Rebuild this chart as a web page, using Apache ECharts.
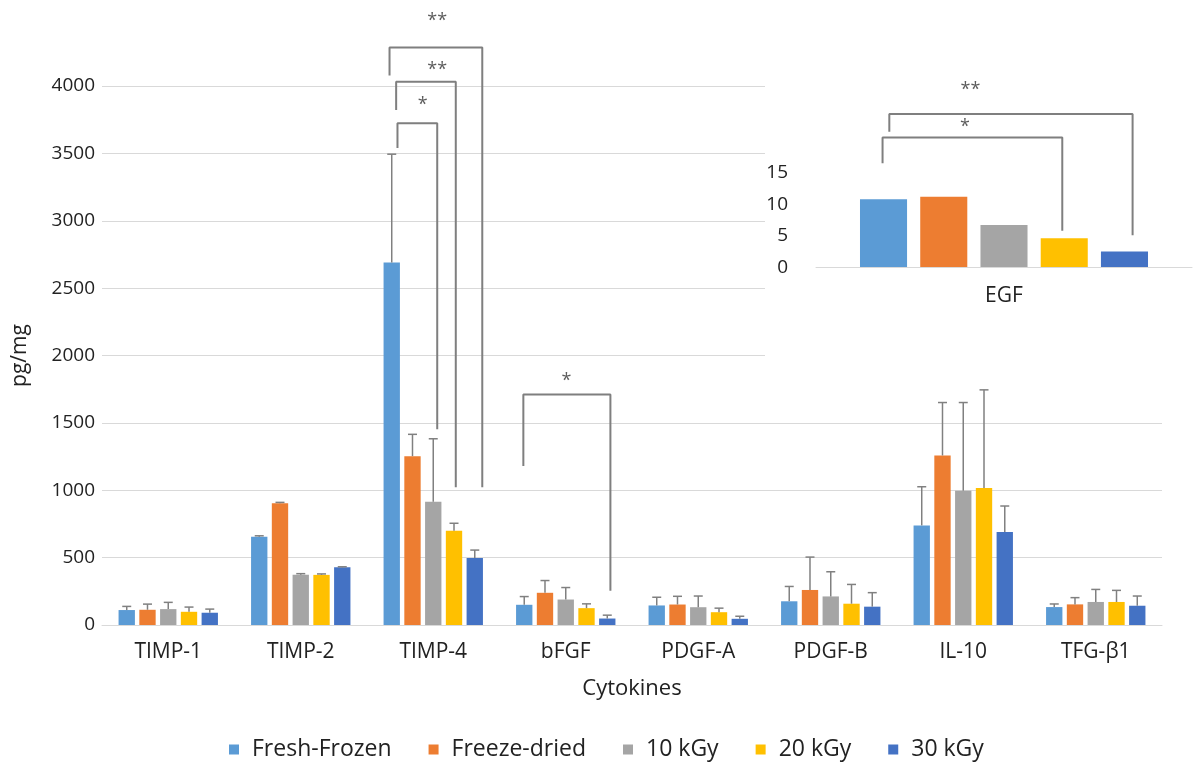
<!DOCTYPE html>
<html>
<head>
<meta charset="utf-8">
<script src="https://cdn.jsdelivr.net/npm/echarts@6/dist/echarts.min.js"></script>
<style>
html,body{margin:0;padding:0;background:#fff;}
#chart{width:1200px;height:762px;}
</style>
</head>
<body>
<div id="chart"></div>
<script>
// ---------- data ----------
const categories = ['TIMP-1', 'TIMP-2', 'TIMP-4', 'bFGF', 'PDGF-A', 'PDGF-B', 'IL-10', 'TFG-β1'];
const seriesNames = ['Fresh-Frozen', 'Freeze-dried', '10 kGy', '20 kGy', '30 kGy'];
const yTicks = [0, 500, 1000, 1500, 2000, 2500, 3000, 3500, 4000];

const freshFrozen = [111, 655, 2690, 150, 145, 176, 739, 133];
const freezeDried = [113, 903, 1253, 239, 152, 260, 1258, 153];
const kGy10 = [118, 373, 915, 189, 132, 212, 996, 171];
const kGy20 = [98, 372, 700, 125, 95, 158, 1016, 171];
const kGy30 = [91, 428, 497, 48, 46, 136, 690, 143];

const sdFreshFrozen = [27, 7, 804, 61, 61, 110, 287, 23];
const sdFreezeDried = [42, 7, 162, 91, 61, 244, 393, 50];
const sdKGy10 = [50, 8, 467, 89, 83, 183, 655, 93];
const sdKGy20 = [35, 7, 55, 32, 30, 143, 729, 86];
const sdKGy30 = [27, 4, 59, 25, 19, 104, 193, 72];

const egfCategory = ['EGF'];
const egfValues = [10.8, 11.2, 6.7, 4.6, 2.5];
const egfTicks = [0, 5, 10, 15];

// significance brackets (x in category units, y in pg/mg)
const mainBrackets = [
  { x1: 2.17, x2: 2.87, top: 4286, leftEnd: 4077, rightEnd: 1022, label: '**', labelX: 2.53, labelY: 4480 },
  { x1: 2.22, x2: 2.67, top: 4031, leftEnd: 3822, rightEnd: 1022, label: '**', labelX: 2.53, labelY: 4120 },
  { x1: 2.23, x2: 2.53, top: 3724, leftEnd: 3540, rightEnd: 1452, label: '*', labelX: 2.42, labelY: 3860 },
  { x1: 3.18, x2: 3.837, top: 1711, leftEnd: 1180, rightEnd: 254, label: '*', labelX: 3.505, labelY: 1815 }
];
// inset brackets (x in fraction of inset width, y in EGF units)
const insetBrackets = [
  { x1: 0.195, x2: 0.842, top: 24.3, leftEnd: 21.5, rightEnd: 5.1, label: '**', labelX: 0.411, labelY: 28.1 },
  { x1: 0.177, x2: 0.655, top: 20.6, leftEnd: 16.5, rightEnd: 5.8, label: '*', labelX: 0.396, labelY: 22.2 }
];

// ---------- styling ----------
const colors = ['#5B9BD5', '#ED7D31', '#A5A5A5', '#FFC000', '#4472C4'];
const FONT = 'Open Sans';
const TEXT = '#222222';
const GRID_LINE = '#D9D9D9';
const BRACKET = '#7F7F7F';
const CAT_GAP = 0.25, BAR_GAP = 0.27;

const means = [freshFrozen, freezeDried, kGy10, kGy20, kGy30];
const sds = [sdFreshFrozen, sdFreezeDried, sdKGy10, sdKGy20, sdKGy30];

const series = [];
seriesNames.forEach((name, s) => {
  series.push({
    name: name, type: 'bar', xAxisIndex: 0, yAxisIndex: 0,
    data: means[s], itemStyle: { color: colors[s] },
    barGap: (BAR_GAP * 100) + '%', barCategoryGap: (CAT_GAP * 100) + '%', z: 2
  });
});
// error bars
seriesNames.forEach((name, s) => {
  series.push({
    type: 'custom', xAxisIndex: 0, yAxisIndex: 0, z: 3, silent: true,
    data: means[s].map((m, i) => [i, m, m + sds[s][i]]),
    renderItem: function (params, api) {
      const band = api.size([1, 0])[0];
      const barW = band * (1 - CAT_GAP) / (5 + 4 * BAR_GAP);
      const off = (s - 2) * barW * (1 + BAR_GAP);
      const b = api.coord([api.value(0), api.value(1)]);
      const t = api.coord([api.value(0), api.value(2)]);
      const x = b[0] + off;
      const st = { stroke: '#808080', lineWidth: 1.5 };
      return { type: 'group', children: [
        { type: 'line', shape: { x1: x, y1: b[1], x2: x, y2: t[1] }, style: st },
        { type: 'line', shape: { x1: x - 4.5, y1: t[1], x2: x + 4.5, y2: t[1] }, style: st }
      ]};
    }
  });
});
// main brackets
mainBrackets.forEach(br => {
  series.push({
    type: 'line', xAxisIndex: 1, yAxisIndex: 0, clip: false, silent: true, z: 4,
    symbol: 'none', lineStyle: { color: BRACKET, width: 2 },
    data: [[br.x1, br.leftEnd], [br.x1, br.top], [br.x2, br.top], [br.x2, br.rightEnd]]
  });
  series.push({
    type: 'scatter', xAxisIndex: 1, yAxisIndex: 0, clip: false, silent: true, z: 4,
    symbolSize: 1, itemStyle: { color: 'rgba(0,0,0,0)' },
    label: { show: true, position: 'inside', formatter: br.label, fontFamily: FONT, fontSize: 18, color: '#333333' },
    data: [[br.labelX, br.labelY]]
  });
});
// inset bars
seriesNames.forEach((name, s) => {
  series.push({
    name: name, type: 'bar', xAxisIndex: 2, yAxisIndex: 1,
    data: [egfValues[s]], itemStyle: { color: colors[s] },
    barGap: '28%', barCategoryGap: '23.4%', z: 6
  });
});
insetBrackets.forEach(br => {
  series.push({
    type: 'line', xAxisIndex: 3, yAxisIndex: 1, clip: false, silent: true, z: 6,
    symbol: 'none', lineStyle: { color: BRACKET, width: 2 },
    data: [[br.x1, br.leftEnd], [br.x1, br.top], [br.x2, br.top], [br.x2, br.rightEnd]]
  });
  series.push({
    type: 'scatter', xAxisIndex: 3, yAxisIndex: 1, clip: false, silent: true, z: 6,
    symbolSize: 1, itemStyle: { color: 'rgba(0,0,0,0)' },
    label: { show: true, position: 'inside', formatter: br.label, fontFamily: FONT, fontSize: 18, color: '#333333' },
    data: [[br.labelX, br.labelY]]
  });
});

const chart = echarts.init(document.getElementById('chart'), null, { renderer: 'canvas' });
chart.setOption({
  animation: false,
  backgroundColor: '#ffffff',
  textStyle: { fontFamily: FONT },
  graphic: [{
    type: 'rect', z: 1, silent: true,
    shape: { x: 765, y: 0, width: 435, height: 370 },
    style: { fill: '#ffffff' }
  }],
  legend: {
    data: seriesNames, left: 224, top: 733, icon: 'rect',
    itemWidth: 10, itemHeight: 10, itemGap: 37,
    textStyle: { fontFamily: FONT, fontSize: 23, color: TEXT, padding: [0, 0, 0, 8] }
  },
  grid: [
    { left: 102, right: 38, top: 86, bottom: 137 },
    { left: 816, width: 376, top: 172.7, height: 94.6 }
  ],
  xAxis: [
    {
      type: 'category', gridIndex: 0, data: categories,
      axisLine: { lineStyle: { color: GRID_LINE, width: 1 } }, axisTick: { show: false },
      axisLabel: { fontFamily: FONT, fontSize: 21, color: TEXT, margin: 17 },
      name: 'Cytokines', nameLocation: 'middle', nameGap: 53,
      nameTextStyle: { fontFamily: FONT, fontSize: 22, color: TEXT }
    },
    { type: 'value', gridIndex: 0, min: 0, max: 8, show: false },
    {
      type: 'category', gridIndex: 1, data: egfCategory, z: 7,
      axisLine: { lineStyle: { color: GRID_LINE, width: 1 } }, axisTick: { show: false },
      axisLabel: { fontFamily: FONT, fontSize: 21, color: TEXT, margin: 18 }
    },
    { type: 'value', gridIndex: 1, min: 0, max: 1, show: false }
  ],
  yAxis: [
    {
      type: 'value', gridIndex: 0, min: yTicks[0], max: yTicks[yTicks.length - 1], interval: yTicks[1] - yTicks[0],
      axisLine: { show: false }, axisTick: { show: false },
      splitLine: { lineStyle: { color: GRID_LINE, width: 1 } },
      axisLabel: { fontFamily: FONT, fontSize: 19, color: TEXT, margin: 7, formatter: v => String(v) },
      name: 'pg/mg', nameLocation: 'middle', nameGap: 71, nameRotate: 90,
      nameTextStyle: { fontFamily: FONT, fontSize: 21, color: TEXT }
    },
    {
      type: 'value', gridIndex: 1, min: egfTicks[0], max: egfTicks[egfTicks.length - 1], interval: egfTicks[1] - egfTicks[0], z: 7,
      axisLine: { show: false }, axisTick: { show: false }, splitLine: { show: false },
      axisLabel: { fontFamily: FONT, fontSize: 19, color: TEXT, margin: 28, formatter: v => String(v) }
    }
  ],
  series: series
});
</script>
</body>
</html>
